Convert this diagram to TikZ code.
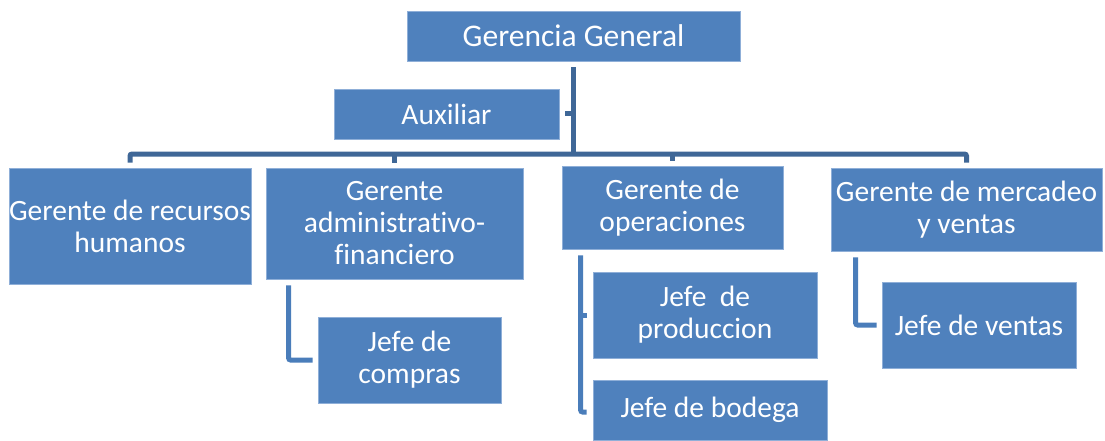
\documentclass[tikz,border=0pt]{standalone}
\usepackage{fontspec}
\setmainfont[Ligatures=NoCommon]{Carlito}
\definecolor{boxblue}{HTML}{4F81BD}
\definecolor{boxedge}{HTML}{8FAFD8}
\definecolor{busblue}{HTML}{3F6797}
\definecolor{childblue}{HTML}{4A7DBA}
\tikzset{
  orgbox/.style={rectangle, fill=boxblue, draw=boxedge, line width=0.8pt,
    text=white, inner sep=0pt, align=center,
    font=\fontsize{29.5}{32}\selectfont},
  busline/.style={draw=busblue, line width=5pt, rounded corners=2pt},
  childline/.style={draw=childblue, line width=5pt, rounded corners=2pt}
}
\begin{document}
\begin{tikzpicture}[x=1pt,y=-1pt]
\useasboundingbox (0,0) rectangle (1105,441);
\node[orgbox, minimum width=333pt, minimum height=50pt, font=\fontsize{31.5}{34}\selectfont] (GG) at (573.5,36) {Gerencia General};
\node[orgbox, minimum width=225pt, minimum height=50pt] (AX) at (446.5,114) {Auxiliar};
\node[orgbox, minimum width=242pt, minimum height=116pt] (R) at (130,226) {Gerente de recursos\\humanos};
\node[orgbox, minimum width=257pt, minimum height=111pt] (A) at (394.5,223.5) {Gerente\\administrativo-\\financiero};
\node[orgbox, minimum width=221pt, minimum height=83pt] (O) at (672.5,207.5) {Gerente de\\operaciones};
\node[orgbox, minimum width=271pt, minimum height=83pt] (M) at (966.5,209.5) {Gerente de mercadeo\\y ventas};
\node[orgbox, minimum width=183pt, minimum height=86pt] (C) at (409.5,360) {Jefe de\\compras};
\node[orgbox, minimum width=224pt, minimum height=86pt] (P) at (705,315) {Jefe\ \ de\\produccion};
\node[orgbox, minimum width=234pt, minimum height=60pt] (B) at (710,410) {Jefe de bodega};
\node[orgbox, minimum width=194pt, minimum height=86pt] (V) at (979,325) {Jefe de ventas};

\coordinate (busy) at (574,154);
% top connectors
\draw[busline, shorten <=6pt] (GG.south) -- (GG.south |- busy);
\draw[busline, shorten <=6pt] (AX.east) -- (AX.east -| GG.south);
\draw[busline] ([yshift=5pt]R.north) -- (R.north |- busy) -- (M.north |- busy) -- ([yshift=5pt]M.north);
\draw[busline] (A.north |- busy) -- ([yshift=5pt]A.north);
\draw[busline] (O.north |- busy) -- ([yshift=5pt]O.north);
% child connectors
\coordinate (ac) at ([xshift=23pt]A.south west);
\draw[childline, shorten <=6pt, shorten >=5pt] (ac) |- (C.west);
\coordinate (oc) at ([xshift=19pt]O.south west);
\coordinate (ob) at ([yshift=-2pt]B.west);
\draw[childline, shorten <=6pt, shorten >=6pt] (oc) |- (ob);
\draw[childline, shorten >=6pt] (oc |- P.west) -- (P.west);
\coordinate (mc) at ([xshift=25pt]M.south west);
\draw[childline, shorten <=6pt, shorten >=5pt] (mc) |- (V.west);
\end{tikzpicture}
\end{document}
